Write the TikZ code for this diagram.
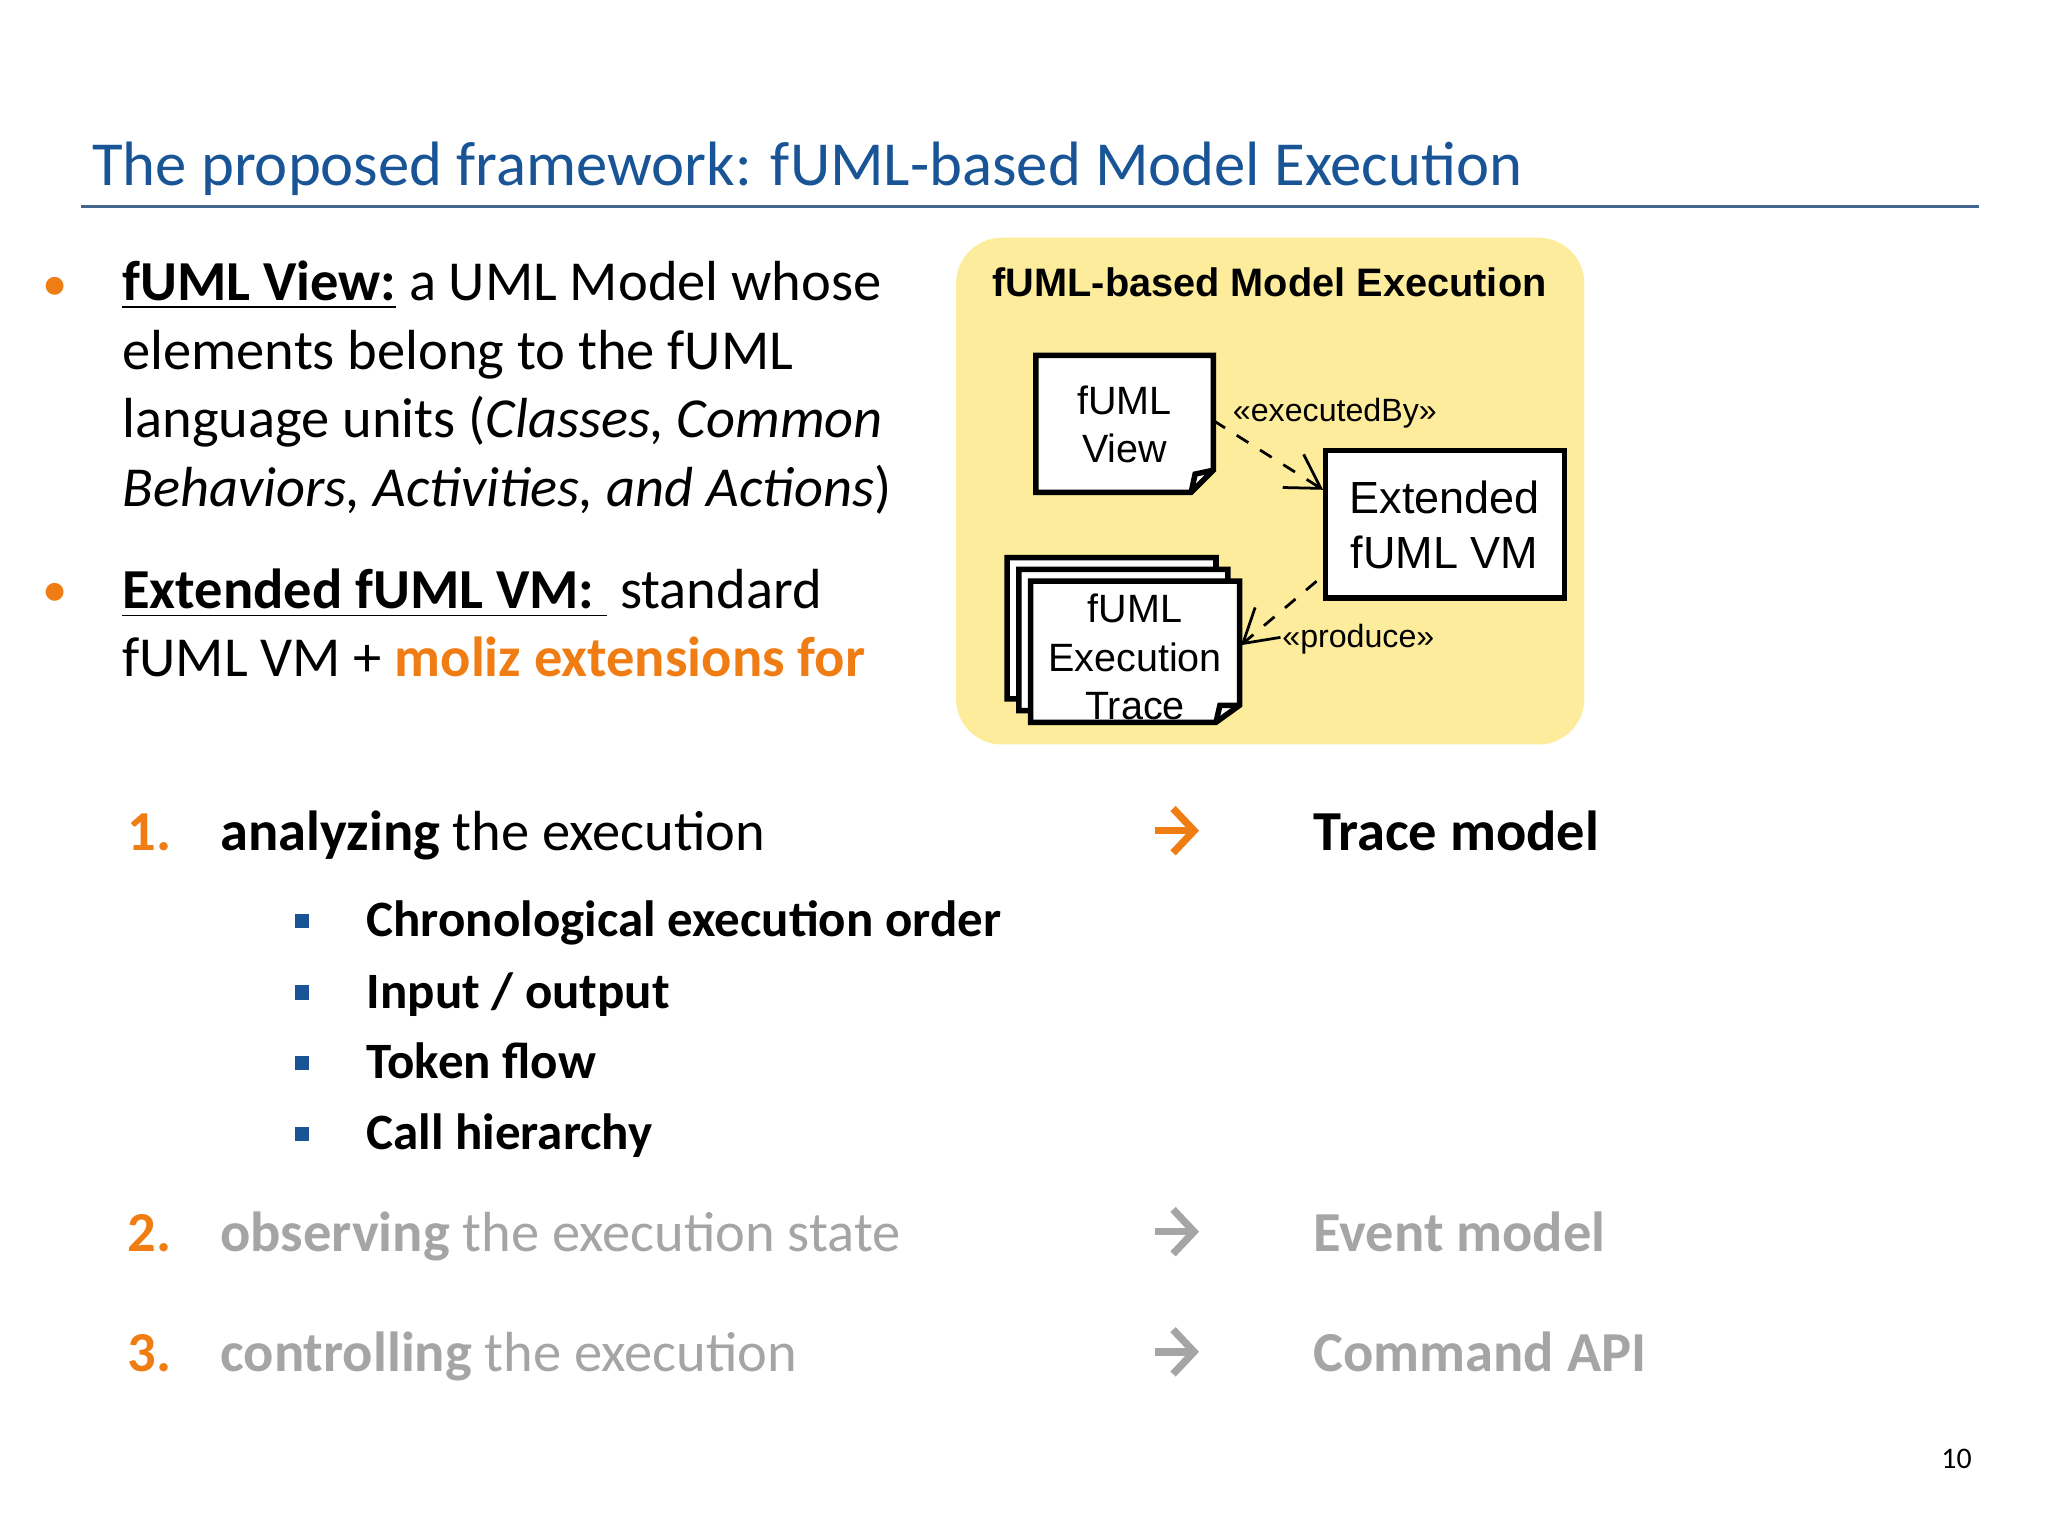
\documentclass[tikz,border=0pt]{standalone}
\usepackage{fontspec}
\setmainfont{Carlito}
\newfontfamily\arial{Liberation Sans}
\usetikzlibrary{arrows.meta}
\definecolor{titleblue}{RGB}{25,85,150}
\definecolor{orng}{RGB}{240,125,20}
\definecolor{boxyellow}{RGB}{252,236,155}
\definecolor{fade}{RGB}{165,165,165}
\definecolor{sqblue}{RGB}{25,85,150}
\begin{document}
\begin{tikzpicture}[x=0.01cm,y=-0.01cm,
  txt/.style={anchor=base west,inner sep=0pt,font=\fontsize{12.3}{14}\selectfont},
  big/.style={anchor=base west,inner sep=0pt,font=\fontsize{12.3}{14}\selectfont\bfseries},
  sub/.style={anchor=base west,inner sep=0pt,font=\fontsize{11.1}{13}\selectfont\bfseries},
  dot/.style={anchor=base,inner sep=0pt,text=orng,font=\fontsize{11}{13}\selectfont},
  sq/.style={fill=sqblue,minimum size=0.11cm,inner sep=0pt},
  arr/.style={line width=1.6pt,-{Straight Barb[length=1.6mm,width=3.4mm]}},
  doc/.style={fill=white,draw=black,line width=1.2pt},
  lbl/.style={inner sep=0pt,font=\arial\fontsize{7}{8}\selectfont},
  dep/.style={dashed,line width=0.6pt,-{Straight Barb[length=2.5mm,width=3mm]}}]
\useasboundingbox (0,0) rectangle (1568,1176);
% title
\node[anchor=base west,inner sep=0pt,text=titleblue,font=\fontsize{13.65}{16}\selectfont] (title) at (70,142) {The proposed framework: fUML-based Model Execution};
\draw[titleblue!60!gray,line width=0.8pt] (62,158) -- (1515,158);
% bullet text
\node[dot] (b1) at (42,230) {\textbullet};
\node[txt] (l1) at (93,230) {\textbf{\underline{fUML View:}} a UML Model whose};
\node[txt] (l2) at (93,283) {elements belong to the fUML};
\node[txt] (l3) at (93,335) {language units (\textit{Classes, Common}};
\node[txt] (l4) at (93,388) {\textit{Behaviors, Activities, and Actions})};
\node[dot] (b2) at (42,464) {\textbullet};
\node[txt] (l5) at (93,466) {\textbf{\underline{Extended fUML VM:\ }} standard};
\node[txt] (l6) at (93,518) {fUML VM + \textcolor{orng}{\textbf{moliz extensions for}}};
% yellow box
\fill[boxyellow,rounded corners=0.35cm] (732,182) rectangle (1213,570);
\node[inner sep=0pt,font=\arial\bfseries\fontsize{8.65}{10}\selectfont] (boxtitle) at (972,216) {fUML-based Model Execution};
% fUML View document
\draw[doc] (793,272) -- (929,272) -- (929,360) -- (912,377) -- (793,377) -- cycle;
\draw[line width=1.2pt] (912,377) -- (915,363) -- (929,360);
\node[align=center,inner sep=0pt,font=\arial\fontsize{8.6}{10.5}\selectfont] (view) at (861,325) {fUML\\View};
% VM box
\draw[doc] (1015,345) rectangle (1198,458);
\node[align=center,inner sep=0pt,font=\arial\fontsize{9.8}{12}\selectfont] (vm) at (1106,402) {Extended\\fUML VM};
% trace stack
\foreach \dx/\dy in {0/0,9/9,18/18}{
  \draw[doc] (771+\dx,427+\dy) -- (931+\dx,427+\dy) -- (931+\dx,522+\dy) -- (913+\dx,535+\dy) -- (771+\dx,535+\dy) -- cycle;
}
\draw[line width=1.2pt] (931,553) -- (934,540) -- (949,540);
\node[align=center,inner sep=0pt,font=\arial\fontsize{8.6}{10.5}\selectfont] (trace) at (869,503) {fUML\\Execution\\Trace};
\coordinate (viewR) at (929,322);
\coordinate (vmL) at (1013,375);
\coordinate (vmB) at (1008,445);
\coordinate (traceR) at (950,494);
\draw[dep] (viewR) -- (vmL);
\draw[dep] (vmB) -- (traceR);
\node[lbl] (ex) at (1022,316) {«executedBy»};
\node[lbl] (pr) at (1040,489) {«produce»};
% numbered items
\node[big,text=orng] (n1) at (97,651) {1.};
\node[txt] (i1) at (168,651) {\textbf{analyzing} the execution};
\coordinate (a1s) at (884,636);
\coordinate (a1e) at (918,636);
\draw[arr,orng] (a1s) -- (a1e);
\node[big] (r1) at (1005,651) {Trace model};
\foreach \y/\t [count=\i] in {705/{Chronological execution order},760/{Input / output},814/{Token flow},868/{Call hierarchy}}{
  \node[sq] (s\i) at (231,\y) {};
  \node[sub] (st\i) at (280,\y+12) {\t};
}
\node[big,text=orng] (n2) at (97,958) {2.};
\node[txt,text=fade] (i2) at (168,958) {\textbf{observing} the execution state};
\coordinate (a2s) at (884,943);
\coordinate (a2e) at (918,943);
\draw[arr,fade] (a2s) -- (a2e);
\node[big,text=fade] (r2) at (1005,958) {Event model};
\node[big,text=orng] (n3) at (97,1050) {3.};
\node[txt,text=fade] (i3) at (168,1050) {\textbf{controlling} the execution};
\coordinate (a3s) at (884,1035);
\coordinate (a3e) at (918,1035);
\draw[arr,fade] (a3s) -- (a3e);
\node[big,text=fade] (r3) at (1005,1050) {Command API};
\node[anchor=base,inner sep=0pt,font=\fontsize{6.5}{8}\selectfont] (page) at (1498,1124) {10};
\end{tikzpicture}
\end{document}
